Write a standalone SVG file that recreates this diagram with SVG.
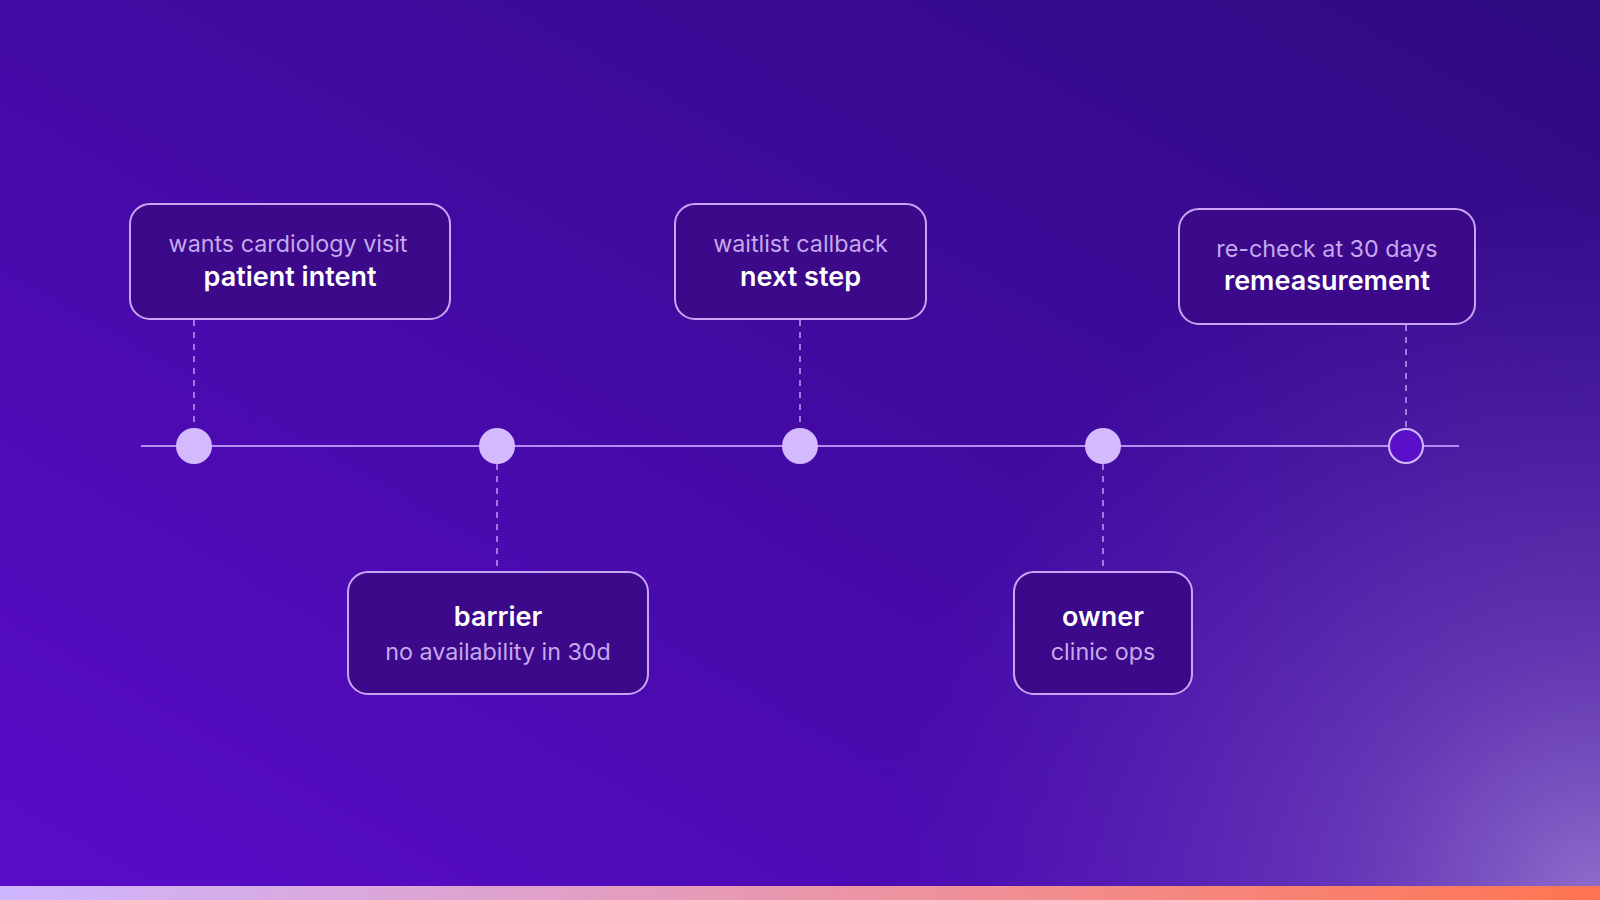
<svg xmlns="http://www.w3.org/2000/svg" width="1600" height="900" viewBox="0 0 1600 900">
  <defs>
    <linearGradient id="bg" x1="0" y1="1" x2="1" y2="0">
      <stop offset="0" stop-color="#5a0cc9"/>
      <stop offset="0.5" stop-color="#430aa4"/>
      <stop offset="1" stop-color="#2e0b80"/>
    </linearGradient>
    <radialGradient id="glow" cx="1600" cy="900" r="720" gradientUnits="userSpaceOnUse">
      <stop offset="0" stop-color="#9e80d2" stop-opacity="0.85"/>
      <stop offset="0.35" stop-color="#8662c6" stop-opacity="0.5"/>
      <stop offset="1" stop-color="#6a3cc0" stop-opacity="0"/>
    </radialGradient>
    <linearGradient id="bar" x1="0" y1="0" x2="1" y2="0">
      <stop offset="0" stop-color="#cdb6ff"/>
      <stop offset="0.35" stop-color="#e1a0c8"/>
      <stop offset="0.7" stop-color="#f48a86"/>
      <stop offset="1" stop-color="#ff7450"/>
    </linearGradient>
    <style>
      .box { fill: #3b0989; stroke: #c9a6f5; stroke-width: 2; }
      .sub { font-family: Inter, "Liberation Sans", sans-serif; font-size: 23.3px; font-weight: 400; fill: #c6a8ee; text-anchor: middle; }
      .ttl { font-family: Inter, "Liberation Sans", sans-serif; font-size: 27px; font-weight: 600; fill: #ffffff; text-anchor: middle; }
      .dash { stroke: #bb92f2; stroke-width: 1.6; stroke-dasharray: 6 6; fill: none; }
      .axis { stroke: #b48cf2; stroke-width: 2; }
      .dot { fill: #d4b9ff; }
      .dotend { fill: #5a10c9; stroke: #d4b9ff; stroke-width: 2; }
    </style>
  </defs>

  <rect x="0" y="0" width="1600" height="900" fill="url(#bg)"/>
  <rect x="0" y="0" width="1600" height="900" fill="url(#glow)"/>
  <rect x="0" y="886" width="1600" height="14" fill="url(#bar)"/>

  <g id="connectors">
    <line class="axis" x1="141" y1="446" x2="1459" y2="446"/>
    <line class="dash" x1="194" y1="320" x2="194" y2="428"/>
    <line class="dash" x1="800" y1="320" x2="800" y2="428"/>
    <line class="dash" x1="1406" y1="325" x2="1406" y2="428"/>
    <line class="dash" x1="497" y1="464" x2="497" y2="571"/>
    <line class="dash" x1="1103" y1="464" x2="1103" y2="571"/>
  </g>

  <g id="dots">
    <circle class="dot" cx="194" cy="446" r="18"/>
    <circle class="dot" cx="497" cy="446" r="18"/>
    <circle class="dot" cx="800" cy="446" r="18"/>
    <circle class="dot" cx="1103" cy="446" r="18"/>
    <circle class="dotend" cx="1406" cy="446" r="17"/>
  </g>

  <g id="node-intent">
    <rect class="box" x="130" y="204" width="320" height="115" rx="20"/>
    <text class="sub" x="288" y="252">wants cardiology visit</text>
    <text class="ttl" x="290" y="286">patient intent</text>
  </g>

  <g id="node-barrier">
    <rect class="box" x="348" y="572" width="300" height="122" rx="20"/>
    <text class="ttl" x="498" y="626">barrier</text>
    <text class="sub" x="498" y="660">no availability in 30d</text>
  </g>

  <g id="node-next">
    <rect class="box" x="675" y="204" width="251" height="115" rx="20"/>
    <text class="sub" x="800.5" y="252">waitlist callback</text>
    <text class="ttl" x="800.5" y="286">next step</text>
  </g>

  <g id="node-owner">
    <rect class="box" x="1014" y="572" width="178" height="122" rx="20"/>
    <text class="ttl" x="1103" y="626">owner</text>
    <text class="sub" x="1103" y="660">clinic ops</text>
  </g>

  <g id="node-remeasure">
    <rect class="box" x="1179" y="209" width="296" height="115" rx="20"/>
    <text class="sub" x="1327" y="257">re-check at 30 days</text>
    <text class="ttl" x="1327" y="290">remeasurement</text>
  </g>
</svg>
